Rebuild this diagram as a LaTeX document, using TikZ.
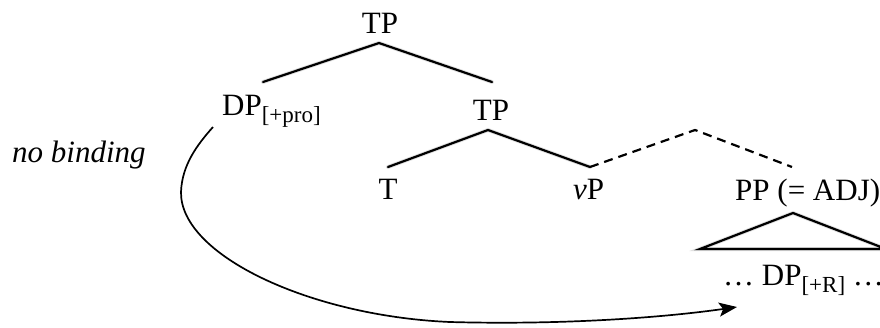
\documentclass[tikz,border=0pt]{standalone}
\usepackage{fontspec}
\setmainfont{Liberation Serif}
\usetikzlibrary{arrows.meta}
\newcommand{\subx}[1]{{\fontsize{23}{23}\selectfont\raisebox{-7.5pt}{#1}}}
\begin{document}
\begin{tikzpicture}[x=1pt,y=-1pt,
  lab/.style={font=\fontsize{31}{36}\selectfont, inner sep=0pt, anchor=base},
  labw/.style={lab, anchor=base west},
  branch/.style={line width=2.2pt, line cap=round},
  dashbranch/.style={branch, line cap=butt, dash pattern=on 9pt off 6pt},
  shadowline/.style={line width=4pt, draw=black!12, line cap=round},
  bindarrow/.style={line width=1.7pt, -{Stealth[length=18pt,width=14pt,inset=4pt]}}]
\useasboundingbox (0,0) rectangle (880,327);

% nodes
\node[lab]  (tp1) at (380,33) {TP};
\node[labw] (dpp) at (222,115) {DP\subx{[+pro]}};
\node[lab]  (tp2) at (491,120) {TP};
\node[lab]  (t)   at (388,199) {T};
\node[labw] (vp)  at (573,199) {\textit{v}P};
\node[labw] (pp)  at (735,200) {PP (= ADJ)};
\node[labw] (dpr) at (723,285) {\ldots\ DP\subx{[+R]} \ldots};
\node[labw] (nb)  at (12,162) {\textit{no binding}};

% branch points
\coordinate (a1) at (379,43);
\coordinate (l1) at (263,82);
\coordinate (r1) at (492,82);
\coordinate (a2) at (488,130);
\coordinate (l2) at (388,167);
\coordinate (r2) at (590,167);
\coordinate (a3) at (695,130);
\coordinate (r3) at (792,167);
\coordinate (ta) at (793,213);
\coordinate (tl) at (700,249);
\coordinate (tr) at (886,249);
\coordinate (cs) at (213,127);
\coordinate (ce) at (737,307);

% shadows
\begin{scope}[shift={(1.5,2.5)}]
  \draw[shadowline] (l1) -- (a1) -- (r1);
  \draw[shadowline] (l2) -- (a2) -- (r2);
  \draw[shadowline] (tl) -- (ta) -- (tr) -- cycle;
\end{scope}

% tree
\draw[branch] (l1) -- (a1) -- (r1);
\draw[branch] (l2) -- (a2) -- (r2);
\draw[dashbranch] (r2) -- (a3) -- (r3);
\draw[branch, line join=miter] (tl) -- (ta) -- (tr) -- cycle;

% binding arrow
\draw[bindarrow] (cs) .. controls (197,145) and (182,165) .. (181,192)
  .. controls (180,255) and (310,316) .. (450,322)
  .. controls (560,325) and (660,318) .. (ce);
\end{tikzpicture}
\end{document}
